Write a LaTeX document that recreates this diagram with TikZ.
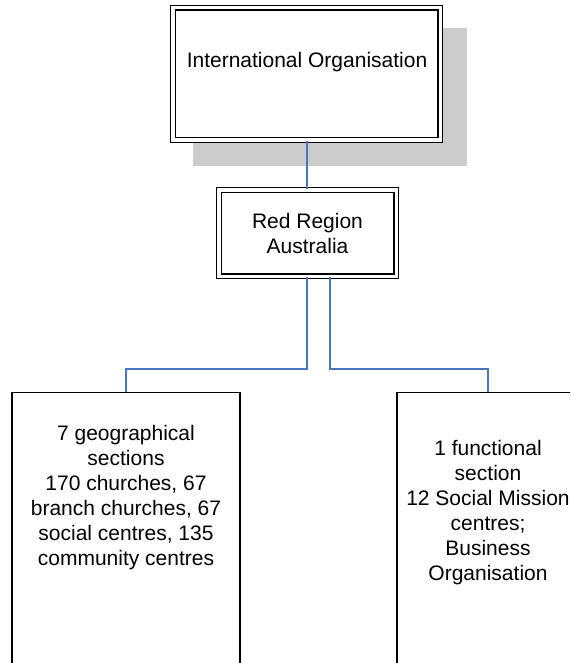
\documentclass[tikz,border=0pt]{standalone}
\usepackage{fontspec}
\setmainfont{Liberation Sans}
\definecolor{conn}{HTML}{4A76C0}
\definecolor{shadowgray}{HTML}{CCCCCC}
\begin{document}
\begin{tikzpicture}[x=1pt,y=-1pt,
  dblbox/.style={draw=black, double=white, line width=1.3pt, double distance=3.2pt, fill=white, inner sep=0pt},
  plainbox/.style={draw=black, line width=1.4pt, fill=white, inner sep=0pt},
  txt/.style={font=\fontsize{21}{25}\selectfont, align=center, inner sep=0pt},
  link/.style={draw=conn, line width=1.5pt}]
\clip (0,0) rectangle (570,663);
\useasboundingbox (0,0) rectangle (570,663);
% shadow
\fill[fill=shadowgray] (193,28) rectangle (467,166);
% top box
\node[dblbox, minimum width=267.2pt, minimum height=132.2pt] (io) at (306.5,74) {};
\node[txt] (iotext) at (307,62) {International Organisation};
% red region
\node[dblbox, minimum width=177.2pt, minimum height=86.2pt, txt] (rr) at (307.5,233) {Red Region\\Australia};
% lower boxes
\node[plainbox, minimum width=228pt, minimum height=300pt, anchor=north] (geo) at (126,392) {};
\node[txt] (geotext) at (126,498) {7 geographical\\sections\\170 churches, 67\\branch churches, 67\\social centres, 135\\community centres};
\node[plainbox, minimum width=182pt, minimum height=300pt, anchor=north] (fun) at (488,392) {};
\node[txt] (funtext) at (488,513) {1 functional\\section\\12 Social Mission\\centres;\\Business\\Organisation};
% connectors
\draw[link] ([xshift=0.5pt]io.south) -- ([xshift=-0.5pt]rr.north);
\draw[link] ([xshift=-0.5pt]rr.south) |- ([yshift=23pt]geo.north) -- (geo.north);
\draw[link] ([xshift=22.5pt]rr.south) |- ([yshift=23pt]fun.north) -- (fun.north);
\end{tikzpicture}
\end{document}
